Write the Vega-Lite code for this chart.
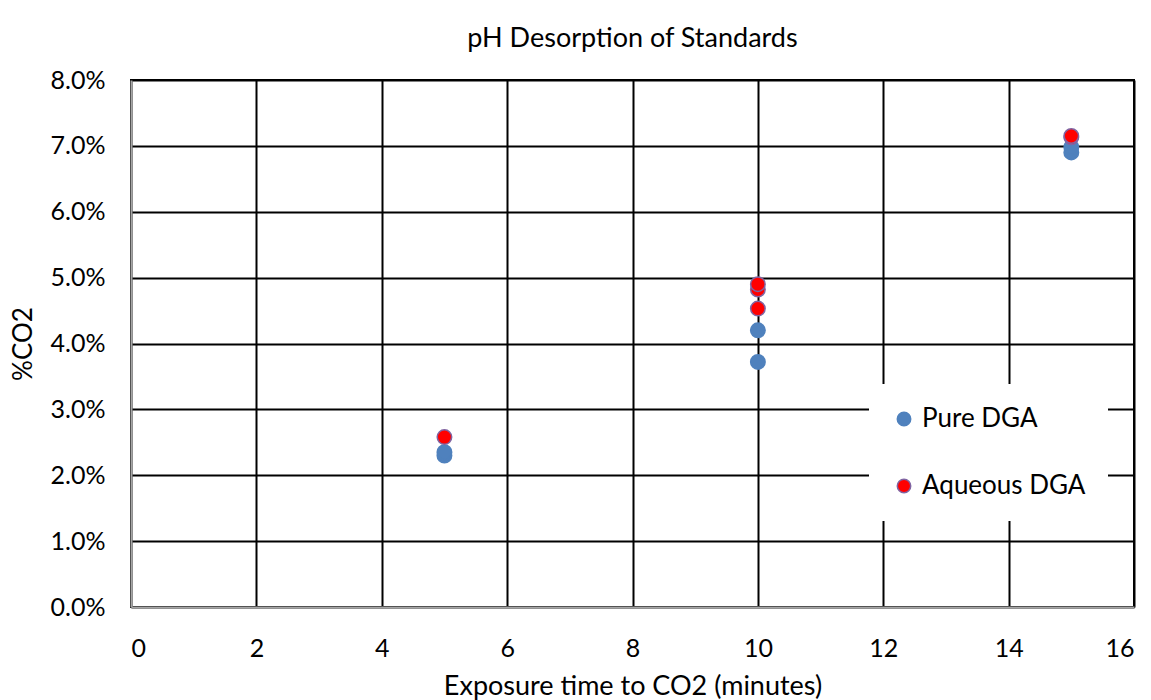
{
  "$schema": "https://vega.github.io/schema/vega-lite/v6.json",
  "width": 1003,
  "height": 527,
  "autosize": "none",
  "padding": {"left": 131, "top": 80, "right": 17, "bottom": 93},
  "background": "white",
  "title": {
    "text": "pH Desorption of Standards",
    "font": "Lato",
    "fontSize": 27,
    "fontWeight": "normal",
    "color": "black",
    "anchor": "middle",
    "offset": 15
  },
  "data": {
    "values": [
      {"time": 5, "co2": 0.0230, "series": "Pure DGA"},
      {"time": 5, "co2": 0.0235, "series": "Pure DGA"},
      {"time": 10, "co2": 0.0372, "series": "Pure DGA"},
      {"time": 10, "co2": 0.0420, "series": "Pure DGA"},
      {"time": 15, "co2": 0.0690, "series": "Pure DGA"},
      {"time": 15, "co2": 0.0698, "series": "Pure DGA"},
      {"time": 5, "co2": 0.0258, "series": "Aqueous DGA"},
      {"time": 10, "co2": 0.0453, "series": "Aqueous DGA"},
      {"time": 10, "co2": 0.0482, "series": "Aqueous DGA"},
      {"time": 10, "co2": 0.0490, "series": "Aqueous DGA"},
      {"time": 15, "co2": 0.0713, "series": "Aqueous DGA"},
      {"time": 15, "co2": 0.0715, "series": "Aqueous DGA"}
    ]
  },
  "mark": {"type": "point", "filled": true, "size": 210, "opacity": 1, "strokeWidth": 1.5},
  "encoding": {
    "x": {
      "field": "time",
      "type": "quantitative",
      "scale": {"domain": [0, 16], "nice": false},
      "axis": {
        "values": [0, 2, 4, 6, 8, 10, 12, 14, 16],
        "title": "Exposure time to CO2 (minutes)",
        "grid": true,
        "gridColor": "black",
        "gridWidth": 2,
        "gridOpacity": 1,
        "ticks": false,
        "domainColor": "#a6a6a6",
        "domainWidth": 2,
        "labelFont": "Lato",
        "labelFontSize": 25,
        "labelColor": "black",
        "labelPadding": 29,
        "titleFont": "Lato",
        "titleFontSize": 27,
        "titleFontWeight": "normal",
        "titleColor": "black",
        "titlePadding": 12,
        "zindex": 0
      }
    },
    "y": {
      "field": "co2",
      "type": "quantitative",
      "scale": {"domain": [0, 0.08], "nice": false},
      "axis": {
        "values": [0, 0.01, 0.02, 0.03, 0.04, 0.05, 0.06, 0.07, 0.08],
        "format": ".1%",
        "title": "%CO2",
        "grid": true,
        "gridColor": "black",
        "gridWidth": 2,
        "gridOpacity": 1,
        "ticks": false,
        "domainColor": "#a6a6a6",
        "domainWidth": 2,
        "labelFont": "Lato",
        "labelFontSize": 25,
        "labelColor": "black",
        "labelPadding": 26,
        "titleFont": "Lato",
        "titleFontSize": 26,
        "titleFontWeight": "normal",
        "titleColor": "black",
        "titlePadding": 14,
        "zindex": 0
      }
    },
    "fill": {
      "field": "series",
      "type": "nominal",
      "scale": {"domain": ["Pure DGA", "Aqueous DGA"], "range": ["#4f81bd", "#ff0000"]},
      "legend": {
        "title": null,
        "orient": "none",
        "legendX": 738,
        "legendY": 304,
        "fillColor": "white",
        "padding": 22,
        "labelFont": "Lato",
        "labelFontSize": 26,
        "labelColor": "black",
        "labelLimit": 400,
        "symbolSize": 180,
        "rowPadding": 41,
        "labelOffset": 5,
        "symbolStrokeWidth": 1.5
      }
    },
    "stroke": {
      "field": "series",
      "type": "nominal",
      "scale": {"domain": ["Pure DGA", "Aqueous DGA"], "range": ["#4f81bd", "#8064a2"]}
    }
  },
  "config": {
    "view": {"stroke": "black", "strokeWidth": 2}
  }
}
